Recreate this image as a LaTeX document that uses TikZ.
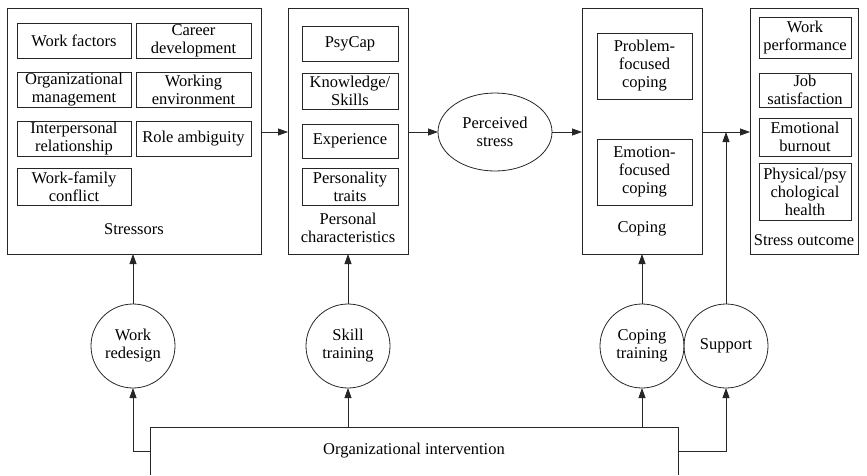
\documentclass[tikz,border=0pt]{standalone}
\usepackage{fontspec}
\setmainfont{Liberation Serif}
\usetikzlibrary{arrows.meta,shapes.geometric}
\begin{document}
\begin{tikzpicture}[x=1pt,y=-1pt,
  every node/.style={font=\fontsize{16.5}{18}\selectfont, align=center, inner sep=0pt, outer sep=0pt},
  line/.style={draw=black!85, line width=0.8pt},
  bigbox/.style={line, minimum height=246pt},
  inbox/.style={line, minimum height=#1},
  circ/.style={line, circle, minimum size=84pt},
  arr/.style={line, -{Triangle[length=10pt,width=7pt]}}
]
\useasboundingbox (0,0) rectangle (867,475);
% big boxes
\node[bigbox, minimum width=254pt] (st) at (134,131) {};
\node[bigbox, minimum width=120pt] (pc) at (348,131) {};
\node[bigbox, minimum width=120pt] (co) at (642,131) {};
\node[bigbox, minimum width=108pt] (so) at (804,131) {};
% stressors
\node[inbox=35pt, minimum width=114pt] (wf) at (74,40.5) {Work factors};
\node[inbox=35pt, minimum width=115pt] (cd) at (193.5,40.5) {Career\\development};
\node[inbox=35pt, minimum width=114pt] (om) at (74,89.5) {Organizational\\management};
\node[inbox=35pt, minimum width=115pt] (we) at (193.5,89.5) {Working\\environment};
\node[inbox=35pt, minimum width=114pt] (ir) at (74,138.5) {Interpersonal\\relationship};
\node[inbox=35pt, minimum width=115pt] (ra) at (193.5,138.5) {Role ambiguity};
\node[inbox=37pt, minimum width=114pt] (wfc) at (74,186.5) {Work-family\\conflict};
\node (stl) at (134,229) {Stressors};
% personal characteristics
\node[inbox=35pt, minimum width=96pt] (psy) at (350,43.5) {PsyCap};
\node[inbox=36pt, minimum width=96pt] (ks) at (350,91) {Knowledge/\\Skills};
\node[inbox=34pt, minimum width=96pt] (ex) at (350,141) {Experience};
\node[inbox=37pt, minimum width=96pt] (pt) at (350,186.5) {Personality\\traits};
\node (pcl) at (348,228) {Personal\\characteristics};
% perceived stress
\node[line, ellipse, minimum width=114pt, minimum height=78pt] (ps) at (495,132) {Perceived\\stress};
% coping
\node[inbox=66pt, minimum width=95pt] (pf) at (644.5,66) {Problem-\\focused\\coping};
\node[inbox=66pt, minimum width=95pt] (ef) at (644.5,172) {Emotion-\\focused\\coping};
\node (col) at (642,229) {Coping};
% stress outcome
\node[inbox=41pt, minimum width=92pt] (wp) at (805,37.5) {Work\\performance};
\node[inbox=34pt, minimum width=92pt] (js) at (805,90) {Job\\satisfaction};
\node[inbox=38pt, minimum width=92pt] (eb) at (805,137) {Emotional\\burnout};
\node[inbox=57pt, minimum width=92pt] (ph) at (805,191.5) {Physical/psy\\chological\\health};
\node (sol) at (804,240) {Stress outcome};
% circles
\node[circ] (wr) at (133,346) {Work\\redesign};
\node[circ] (sk) at (348,346) {Skill\\training};
\node[circ] (ct) at (642,346) {Coping\\training};
\node[circ] (sup) at (726,346) {Support};
% organizational intervention
\node[minimum width=528pt, minimum height=48pt] (org) at (414,451) {Organizational intervention};
\draw[line] (org.south west) -- (org.north west) -- (org.north east) -- (org.south east);
% main flow
\draw[arr] (st.east |- 0,132) -- (pc.west |- 0,132);
\draw[arr] (pc.east |- ps.west) -- (ps.west);
\draw[arr] (ps.east) -- (co.west |- ps.east);
\draw[arr] (co.east |- ps.east) -- (so.west |- ps.east);
\draw[arr] (sup.north) -- (sup.north |- ps.east);
% interventions
\draw[arr] (wr.north) -- (wr.north |- st.south);
\draw[arr] (sk.north) -- (sk.north |- pc.south);
\draw[arr] (ct.north) -- (ct.north |- co.south);
\draw[arr] (org.west) -| (wr.south);
\draw[arr] (sk.south |- org.north) -- (sk.south);
\draw[arr] (ct.south |- org.north) -- (ct.south);
\draw[arr] (org.east) -| (sup.south);
\end{tikzpicture}
\end{document}
